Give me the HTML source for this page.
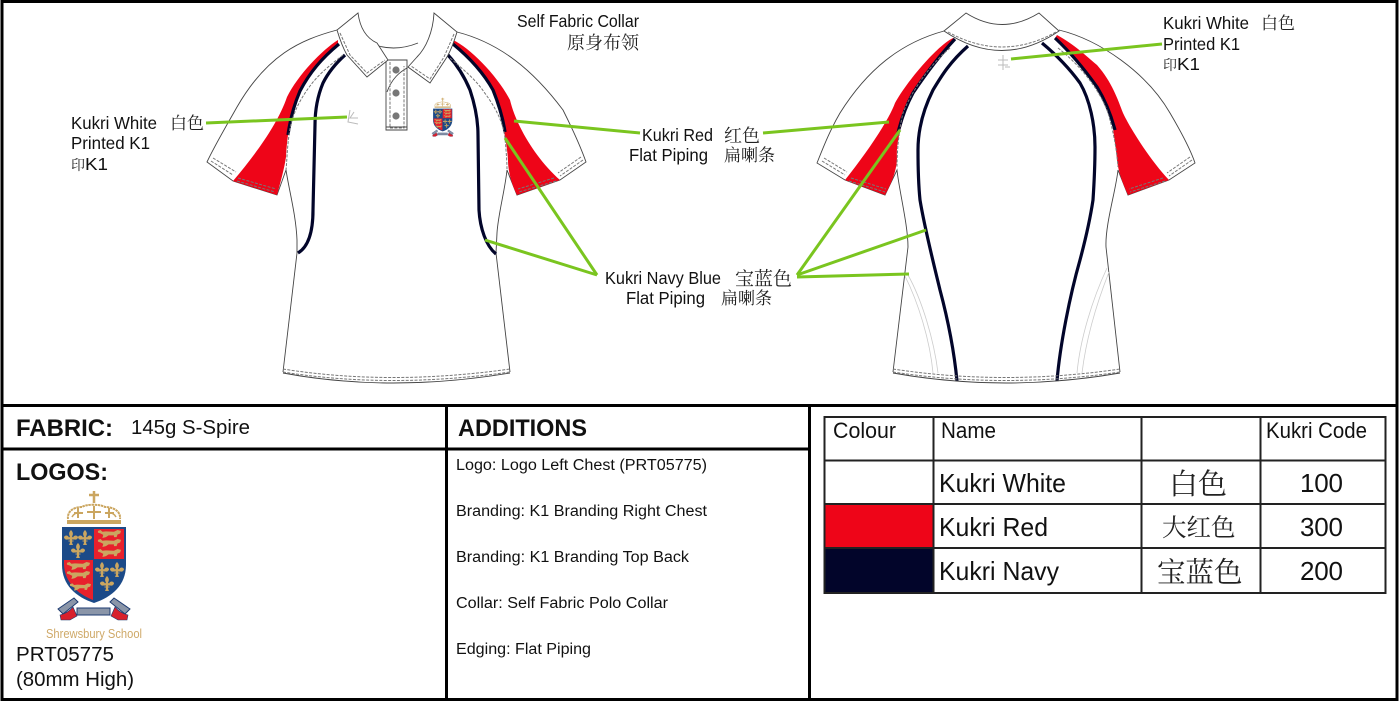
<!DOCTYPE html>
<html><head><meta charset="utf-8"><style>
html,body{margin:0;padding:0;background:#fff;width:1399px;height:701px;overflow:hidden}
svg{display:block}
.s{font-family:"Liberation Sans",sans-serif;fill:#111}
.c{font-family:"Noto Serif CJK SC","Liberation Serif",serif;fill:#222}
.b{font-weight:bold}
.o{fill:#fff;stroke:#444;stroke-width:.9}
.l{fill:none;stroke:#444;stroke-width:.9}
.t{fill:none;stroke:#777;stroke-width:1;stroke-dasharray:3 1.4}
.n{fill:none;stroke:#02052a;stroke-width:3.2}
.g{stroke:#7ac51f;stroke-width:3;fill:none}
.r{fill:#ee0518}
</style></head><body>
<svg width="1399" height="701" viewBox="0 0 1399 701" xmlns="http://www.w3.org/2000/svg">
<defs>
<symbol id="fl" viewBox="0 0 14 15" overflow="visible">
<path fill="#cba660" d="M7 0C9 2 9.500 4 8 6.500L9 7.500C10 5 13 5 14 7C14 9 12 10 10.500 9.500L8 9.500V10.500H9.500V11.500H8C8 13 8.500 14 9 15H5C5.500 14 6 13 6 11.500H4.500V10.500H6V9.500L3.500 9.500C2 10 0 9 0 7C1 5 4 5 5 7.500L6 6.500C4.500 4 5 2 7 0Z"/>
</symbol>
<symbol id="li" viewBox="0 0 26 9" overflow="visible">
<path fill="#cba660" d="M0 1L3 0L5 2L9 1.500L18 2L22 0L26 1L25 4L22 5L21 8L18 8L18 6L12 6L9 8L5 9L6 5.500L3 4L0 3Z"/>
</symbol>
<symbol id="crest" viewBox="0 0 110 160">
<g fill="none" stroke="#cba660" stroke-width="2">
<path d="M28 34C27 26 34 22 42 22C46 19 60 19 65 22C73 22 81 26 80 34" stroke-dasharray="2.500 .6"/>
<path d="M32 32C34 28 38 27 43 28M76 32C74 28 70 27 65 28" stroke-width="1.500"/>
<path d="M54 18V6M49 10H59" stroke-width="2.500"/>
<path d="M54 21V34M47 27H61M38 23V33M34 28H43M69 23V33M65 28H74" stroke-width="2"/>
</g>
<rect x="27" y="35" width="54" height="4" fill="#cba660"/>
<path d="M22 42H86V80C86 100 72 112 54 118C36 112 22 100 22 80Z" fill="#1c4a88"/>
<rect x="54" y="44" width="30" height="30" fill="#e8202c"/>
<path d="M24 75H53V115C38 109 25 98 24 80Z" fill="#e8202c"/>
<use href="#fl" x="24" y="45" width="14" height="15"/><use href="#fl" x="38" y="45" width="14" height="15"/><use href="#fl" x="31" y="58" width="14" height="15"/>
<use href="#fl" x="55" y="77" width="14" height="15"/><use href="#fl" x="70" y="77" width="14" height="15"/><use href="#fl" x="60" y="91" width="14" height="15"/>
<use href="#li" x="57" y="45" width="25" height="8"/><use href="#li" x="57" y="54" width="25" height="8"/><use href="#li" x="57" y="64" width="25" height="8"/>
<use href="#li" x="26" y="77" width="25" height="8"/><use href="#li" x="26" y="86" width="25" height="8"/><use href="#li" x="30" y="97" width="21" height="10"/>
<path d="M37 123H70V130H37Z" fill="#8a95a8" stroke="#1c3a70"/>
<path d="M18 124L34 113L38 117L23 129Z M90 124L74 113L70 117L85 129Z" fill="#8a95a8" stroke="#1c3a70"/>
<path d="M20 130Q28 128 33 122L37 131L30 135L21 135Z M88 130Q80 128 75 122L71 131L78 135L87 135Z" fill="#d8202c" stroke="#1c3a70" stroke-width=".6"/>
</symbol>
</defs>

<!-- FRONT SHIRT -->
<path class="l" d="M337 30C300 40 267 55 237 107C224 130 215 145 207 162L233 181L277 195L286 170M286 170C289 190 296 215 297 240L297 253L283 372"/>
<path class="l" d="M457 32C500 43 533 70 563 110C572 128 580 145 586 162L560 180L517 195L507 170M507 170C505 190 498 215 497 233L496 253L510 372"/>
<path class="r" d="M338 40C322 50 298 75 287 97C280 118 262 147 233 181L277 195C281 180 284 170 286 157C287 135 291 110 300 90C312 72 325 58 338 45Z"/>
<path class="r" d="M453 40C470 48 497 75 510 100C516 125 535 158 560 180L517 195C512 185 508 172 508 160C507 145 503 120 493 90C482 72 468 57 453 45Z"/>
<path class="n" d="M339 44C322 58 310 72 300 91C294 105 290 120 288 135"/>
<path class="n" d="M453 44C470 58 483 72 493 90C499 105 503 118 505 132"/>
<path class="n" d="M345 55C335 64 328 73 323 83C318 95 315 110 315 125L313 210C313 232 308 247 298 253"/>
<path class="n" d="M448 55C458 66 465 78 470 90C475 105 478 120 478 135L479 210C480 228 486 246 496 254"/>
<path class="t" d="M343 55C330 65 318 75 310 86C298 102 291 118 289 135C287 150 287 160 286 170"/>
<path class="t" d="M450 58C464 70 476 80 484 92C496 108 503 122 505 138C506 150 507 160 507 170"/>
<path class="t" d="M211 161L233 175M237 181L275 192M213 158L236 172M238 178L276 189"/>
<path class="t" d="M583 160L560 176M556 181L519 192M581 157L558 173M554 178L518 189"/>
<path class="l" d="M283 373Q390 393 510 373"/>
<path class="t" d="M283 369Q390 386 510 369M283 372Q390 389 510 372"/>
<path class="l" d="M370 43Q393 53 418 43"/>
<path class="o" d="M386 60H407V130H386Z"/>
<path class="l" d="M407 68C400 72 392 78 387 92"/>
<path class="t" d="M390 62V128H404V66" stroke-width=".9"/>
<path class="l" d="M386 127H407"/>
<circle cx="396" cy="70" r="3.600" fill="#777"/><circle cx="396" cy="93" r="3.600" fill="#777"/><circle cx="396" cy="116" r="3.600" fill="#777"/>
<path class="o" d="M358 13L337 30C340 40 343 48 347 55L367 77L388 60L377 43C366 38 360 28 358 13Z"/>
<path class="o" d="M434 13L457 32C454 42 451 50 447 57L430 83L408 67L417 57C426 48 433 32 434 13Z"/>
<path class="t" d="M340 33L350 55L367 73L385 60"/>
<path class="t" d="M454 34L444 57L430 79L411 66"/>
<path fill="none" stroke="#bbb" stroke-width="1" d="M350 110L348 122L358 124M354 112L350 118L358 118"/>
<use href="#crest" x="426" y="96" width="34" height="48"/>

<!-- BACK SHIRT -->
<path class="l" d="M944 31C900 43 867 70 840 113C830 130 823 148 817 163L845 180L885 195L897 170C899 190 908 225 908 247L893 372"/>
<path class="l" d="M1059 30C1100 40 1147 73 1170 113C1180 130 1190 148 1195 163L1169 180L1128 195L1118 170C1116 190 1105 225 1106 247L1120 372"/>
<path class="r" d="M953 38C937 46 908 80 895 103C888 122 865 155 845 180L885 195C892 182 897 170 897 157C896 145 900 125 913 93C925 76 940 55 955 39Z"/>
<path class="r" d="M1057 35C1075 45 1085 55 1097 65C1112 82 1118 100 1123 113C1130 128 1150 160 1169 180L1128 195C1122 182 1118 170 1117 160C1116 148 1114 138 1113 127C1108 112 1105 98 1097 87C1085 70 1070 52 1055 38Z"/>
<path class="n" d="M955 39C940 55 925 75 913 93C905 108 901 120 898 133"/>
<path class="n" d="M1055 38C1070 52 1085 70 1097 87C1105 100 1111 115 1115 130"/>
<path class="n" d="M968 46C950 62 942 75 933 90C923 110 918 130 918 150C918 170 919 190 920 200C925 230 934 265 940 290C948 320 954 350 957 381"/>
<path class="n" d="M1042 43C1060 58 1072 72 1080 83C1090 100 1095 125 1095 147C1095 165 1094 185 1093 200C1090 220 1084 245 1080 260C1070 295 1060 345 1057 381"/>
<path class="t" d="M950 48C930 65 912 90 903 113C899 130 897 150 897 167"/>
<path class="t" d="M1058 48C1080 65 1100 90 1108 113C1113 130 1117 150 1118 167"/>
<path class="t" d="M822 161L845 175M849 181L885 192M824 158L847 172M851 178L886 189"/>
<path class="t" d="M1192 160L1169 176M1165 181L1130 192M1190 157L1167 173M1163 178L1129 189"/>
<path class="l" d="M893 373Q1005 393 1120 373"/>
<path class="t" d="M893 369Q1005 386 1120 369M893 372Q1005 389 1120 372"/>
<path fill="none" stroke="#ccc" stroke-width=".8" d="M908 275C922 300 934 340 938 373M905 276C918 302 930 340 933 373M1107 268C1092 300 1080 340 1077 373M1109 272C1096 305 1086 340 1082 373"/>
<path class="o" d="M966 13Q1002 36 1039 13L1059 31Q1002 70 944 31Z"/>
<path class="t" d="M948 32Q1002 62 1056 32"/>
<path fill="none" stroke="#bbb" stroke-width="1" d="M1003 55V70M998 60H1008M998 65H1008M1005 67H1010"/>

<!-- GREEN LEADERS -->
<path class="g" d="M206 123L347 117"/>
<path class="g" d="M514 121L640 133"/>
<path class="g" d="M505 138L597 275"/>
<path class="g" d="M485 240L597 275"/>
<path class="g" d="M763 133L889 122"/>
<path class="g" d="M900 130L797 275"/>
<path class="g" d="M926 230L797 275"/>
<path class="g" d="M909 274L797 277"/>
<path class="g" d="M1011 59L1162 44"/>

<!-- LABELS -->
<g class="s" font-size="17.500">
<text x="71" y="129" textLength="86" lengthAdjust="spacingAndGlyphs">Kukri White</text>
<text x="71" y="149" textLength="79" lengthAdjust="spacingAndGlyphs">Printed K1</text>
<text x="85" y="170" textLength="23" lengthAdjust="spacingAndGlyphs">K1</text>
<text x="517" y="27" textLength="122" lengthAdjust="spacingAndGlyphs">Self Fabric Collar</text>
<text x="1163" y="29" textLength="86" lengthAdjust="spacingAndGlyphs">Kukri White</text>
<text x="1163" y="50" textLength="77" lengthAdjust="spacingAndGlyphs">Printed K1</text>
<text x="1177" y="70" textLength="23" lengthAdjust="spacingAndGlyphs">K1</text>
<text x="642" y="141" textLength="71" lengthAdjust="spacingAndGlyphs">Kukri Red</text>
<text x="629" y="161" textLength="79" lengthAdjust="spacingAndGlyphs">Flat Piping</text>
<text x="605" y="284" textLength="116" lengthAdjust="spacingAndGlyphs">Kukri Navy Blue</text>
<text x="626" y="304" textLength="79" lengthAdjust="spacingAndGlyphs">Flat Piping</text>
</g>
<g class="c">
<text x="170" y="129" font-size="17">白色</text>
<text x="71" y="170" font-size="14">印</text>
<text x="567" y="49" font-size="18">原身布领</text>
<text x="1261" y="29" font-size="17">白色</text>
<text x="1163" y="70" font-size="14">印</text>
<text x="724" y="142" font-size="18">红色</text>
<text x="724" y="161" font-size="17">扁喇条</text>
<text x="735" y="285" font-size="19">宝蓝色</text>
<text x="721" y="304" font-size="17">扁喇条</text>
</g>

<!-- FRAME -->
<g stroke="#000" fill="none">
<rect x="2" y="1.500" width="1395" height="698" stroke-width="3"/>
<path d="M2 405.500H1397" stroke-width="3"/>
<path d="M446.500 405V699M809.500 405V699" stroke-width="3"/>
<path d="M3 449H809" stroke-width="3"/>
</g>

<!-- FABRIC / ADDITIONS -->
<g class="s">
<text x="16" y="436" font-size="24" class="b" textLength="97" lengthAdjust="spacingAndGlyphs">FABRIC:</text>
<text x="131" y="434" font-size="20.500" textLength="119" lengthAdjust="spacingAndGlyphs">145g S-Spire</text>
<text x="458" y="436" font-size="24" class="b" textLength="129" lengthAdjust="spacingAndGlyphs">ADDITIONS</text>
<text x="16" y="480" font-size="24" class="b" textLength="92" lengthAdjust="spacingAndGlyphs">LOGOS:</text>
<text x="16" y="661" font-size="20.500" textLength="98" lengthAdjust="spacingAndGlyphs">PRT05775</text>
<text x="16" y="686" font-size="20.500" textLength="118" lengthAdjust="spacingAndGlyphs">(80mm High)</text>
<text x="456" y="470" font-size="15.500" textLength="251" lengthAdjust="spacingAndGlyphs">Logo: Logo Left Chest (PRT05775)</text>
<text x="456" y="516" font-size="15.500" textLength="251" lengthAdjust="spacingAndGlyphs">Branding: K1 Branding Right Chest</text>
<text x="456" y="562" font-size="15.500" textLength="233" lengthAdjust="spacingAndGlyphs">Branding: K1 Branding Top Back</text>
<text x="456" y="608" font-size="15.500" textLength="212" lengthAdjust="spacingAndGlyphs">Collar: Self Fabric Polo Collar</text>
<text x="456" y="654" font-size="15.500" textLength="135" lengthAdjust="spacingAndGlyphs">Edging: Flat Piping</text>
</g>
<use href="#crest" x="40" y="485" width="110" height="160"/>
<text x="46" y="638" font-family="Liberation Sans, sans-serif" font-size="13" fill="#cfa968" textLength="96" lengthAdjust="spacingAndGlyphs">Shrewsbury School</text>

<!-- TABLE -->
<rect x="824" y="504" width="109" height="44" fill="#ee0518"/>
<rect x="824" y="548" width="109" height="45" fill="#02052a"/>
<g stroke="#222" stroke-width="2" fill="none">
<rect x="824.500" y="417" width="561" height="176"/>
<path d="M824 460.500H1385M824 504H1385M824 548H1385M933.500 417V593M1141.500 417V593M1260.500 417V593"/>
</g>
<g class="s">
<text x="833" y="438" font-size="22" textLength="63" lengthAdjust="spacingAndGlyphs">Colour</text>
<text x="941" y="438" font-size="22" textLength="55" lengthAdjust="spacingAndGlyphs">Name</text>
<text x="1266" y="438" font-size="22" textLength="101" lengthAdjust="spacingAndGlyphs">Kukri Code</text>
<text x="939" y="492" font-size="26" textLength="127" lengthAdjust="spacingAndGlyphs">Kukri White</text>
<text x="939" y="536" font-size="26" textLength="109" lengthAdjust="spacingAndGlyphs">Kukri Red</text>
<text x="939" y="580" font-size="26" textLength="120" lengthAdjust="spacingAndGlyphs">Kukri Navy</text>
<text x="1300" y="492" font-size="26" textLength="43">100</text>
<text x="1300" y="536" font-size="26" textLength="43">300</text>
<text x="1300" y="580" font-size="26" textLength="43">200</text>
</g>
<g class="c">
<text x="1169" y="494" font-size="29">白色</text>
<text x="1162" y="536" font-size="24.500">大红色</text>
<text x="1157" y="582" font-size="28.500">宝蓝色</text>
</g>
</svg>
</body></html>
